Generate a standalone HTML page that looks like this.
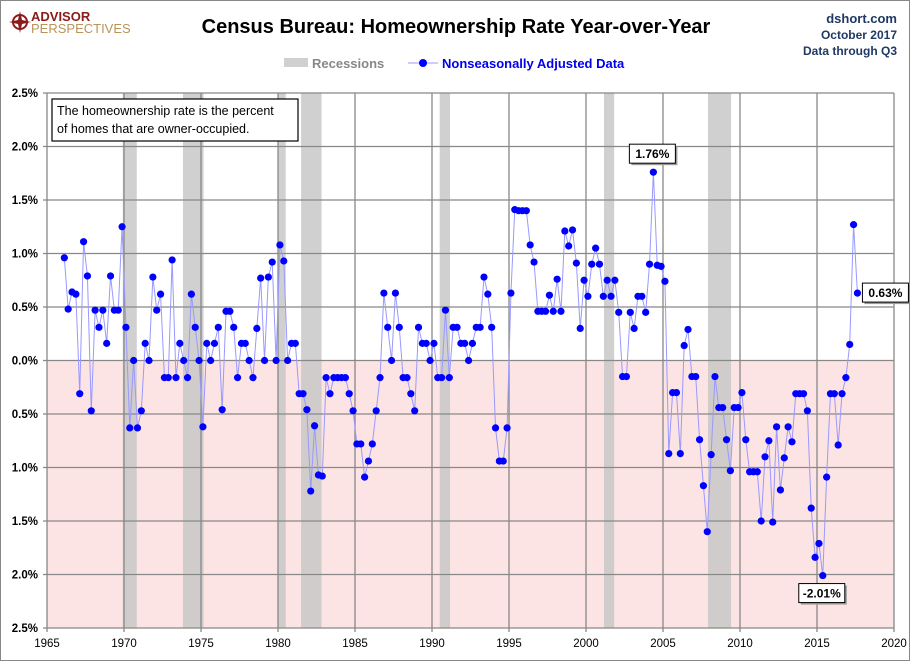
<!DOCTYPE html>
<html><head><meta charset="utf-8"><style>
body{margin:0;background:#fff;font-family:"Liberation Sans",sans-serif}
#wrap{position:relative;width:908px;height:659px;border:1px solid #888;overflow:hidden}
</style></head><body>
<div id="wrap">
<svg id="chart" width="908" height="659" xmlns="http://www.w3.org/2000/svg">
<g>
<circle cx="19" cy="21" r="7" fill="none" stroke="#8b1a1a" stroke-width="2"/>
<path d="M19 10 L21 19 L30 21 L21 23 L19 32 L17 23 L8 21 L17 19Z" fill="#8b1a1a"/>
<text x="30" y="20" font-size="13" font-weight="bold" fill="#8b1a1a">ADVISOR</text>
<text x="30" y="32" font-size="13" fill="#b8955a">PERSPECTIVES</text>
</g>
<text x="455" y="32" text-anchor="middle" font-size="20" font-weight="bold" fill="#000">Census Bureau: Homeownership Rate Year-over-Year</text>
<text x="896" y="22" text-anchor="end" font-size="13" font-weight="bold" fill="#1f3864">dshort.com</text>
<text x="896" y="38" text-anchor="end" font-size="12" font-weight="bold" fill="#1f3864">October 2017</text>
<text x="896" y="54" text-anchor="end" font-size="12" font-weight="bold" fill="#1f3864">Data through Q3</text>
<g>
<rect x="283" y="57" width="24" height="9" fill="#d0d0d0"/>
<text x="311" y="67" font-size="13" font-weight="bold" fill="#888">Recessions</text>
<line x1="407" y1="62" x2="437" y2="62" stroke="#9999ff" stroke-width="1"/>
<circle cx="422" cy="62" r="4" fill="#0000ff"/>
<text x="441" y="67" font-size="13" font-weight="bold" fill="#0000ee">Nonseasonally Adjusted Data</text>
</g>
<g id="plot"></g>
<g>
<rect x="51" y="98" width="246" height="42" fill="#fff" stroke="#000" stroke-width="1.2"/>
<text x="56" y="114" font-size="12.5" fill="#000">The homeownership rate is the percent</text>
<text x="56" y="132" font-size="12.5" fill="#000">of homes that are owner-occupied.</text>
</g>
</svg>
</div>
<script>
const startYear = 1966;
const values = [0.96,0.48,0.64,0.62,-0.31,1.11,0.79,-0.47,0.47,0.31,0.47,0.16,0.79,0.47,0.47,1.25,0.31,-0.63,0,-0.63,-0.47,0.16,0,0.78,0.47,0.62,-0.16,-0.16,0.94,-0.16,0.16,0,-0.16,0.62,0.31,0,-0.62,0.16,
0,0.16,0.31,-0.46,0.46,0.46,0.31,-0.16,0.16,0.16,0,-0.16,0.3,0.77,0,0.78,0.92,0,1.08,0.93,0,0.16,0.16,-0.31,-0.31,-0.46,-1.22,-0.61,-1.07,-1.08,-0.16,-0.31,-0.16,-0.16,-0.16,-0.16,-0.31,-0.47,
-0.78,-0.78,-1.09,-0.94,-0.78,-0.47,-0.16,0.63,0.31,0,0.63,0.31,-0.16,-0.16,-0.31,-0.47,0.31,0.16,0.16,0,0.16,-0.16,-0.16,0.47,-0.16,0.31,0.31,0.16,0.16,0,0.16,0.31,0.31,0.78,0.62,0.31,-0.63,-0.94,-0.94,-0.63,
0.63,1.41,1.40,1.40,1.40,1.08,0.92,0.46,0.46,0.46,0.61,0.46,0.76,0.46,1.21,1.07,1.22,0.91,0.30,0.75,0.60,0.90,1.05,0.90,0.60,0.75,0.60,0.75,0.45,-0.15,-0.15,0.45,0.30,0.60,0.60,0.45,0.90,1.76,0.89,0.88,0.74,-0.87,-0.30,-0.30,
-0.87,0.14,0.29,-0.15,-0.15,-0.74,-1.17,-1.60,-0.88,-0.15,-0.44,-0.44,-0.74,-1.03,-0.44,-0.44,-0.30,-0.74,-1.04,-1.04,-1.04,
-1.50,-0.90,-0.75,-1.51,-0.62,-1.21,-0.91,-0.62,-0.76,-0.31,-0.31,-0.31,-0.47,-1.38,-1.84,-1.71,-2.01,-1.09,-0.31,-0.31,-0.79,-0.31,-0.16,0.15,1.27,0.63];
const recessionStarts = [1969.92,1973.83,1980.0,1981.5,1990.5,2001.17,2007.92];
const recessionEnds = [1970.83,1975.17,1980.5,1982.83,1991.17,2001.83,2009.42];
const yTicks = [2.5,2.0,1.5,1.0,0.5,0.0,-0.5,-1.0,-1.5,-2.0,-2.5];
const xTicks = [1965,1970,1975,1980,1985,1990,1995,2000,2005,2010,2015,2020];
const callouts = [[153,'1.76%'],[206,'0.63%'],[197,'-2.01%']];

const L=46,R=893,T=92,B=627,NS='http://www.w3.org/2000/svg';
const xS=y=>L+(y-1965)/55*(R-L);
const yS=v=>T+(2.5-v)/5*(B-T);
const g=document.getElementById('plot');
function mk(t,a,p){const e=document.createElementNS(NS,t);for(const k in a)e.setAttribute(k,a[k]);(p||g).appendChild(e);return e;}
let e=mk('rect',{x:L,y:yS(0),width:R-L,height:B-yS(0),fill:'#fde4e4'});


recessionStarts.forEach((s,i)=>{const r=mk('rect',{x:xS(s),y:T,width:xS(recessionEnds[i])-xS(s),height:B-T,fill:'#c8c8c8','fill-opacity':0.85});

});
yTicks.forEach(v=>{const l=mk('line',{x1:L-4,x2:R,y1:yS(v),y2:yS(v),stroke:'#888','stroke-width':1.3});


const t=mk('text',{x:L-9,y:yS(v)+4,'text-anchor':'end','font-size':11.5,'font-weight':'bold',fill:'#000'});
t.textContent=Math.abs(v).toFixed(1)+'%';

});
xTicks.forEach(y=>{const l=mk('line',{x1:xS(y),x2:xS(y),y1:T,y2:B+4,stroke:'#888','stroke-width':1.3});


const t=mk('text',{x:xS(y),y:B+19,'text-anchor':'middle','font-size':11.5,fill:'#000'});
t.textContent=y;

});
const px=i=>xS(startYear+i/4+0.125);
const line=mk('polyline',{points:values.map((v,i)=>px(i)+','+yS(v)).join(' '),fill:'none',stroke:'#9999ff','stroke-width':1});


values.forEach((v,i)=>{const c=mk('circle',{cx:px(i),cy:yS(v),r:3.6,fill:'#0000ff'});

});
callouts.forEach(([i,txt])=>{let x,y;const v=values[i];
if(txt==='0.63%'){x=px(i)+5;y=yS(v)-10;}else if(v<0){x=px(i)-24;y=yS(v)+8;}else{x=px(i)-24;y=yS(v)-28;}
const gg=mk('g',{});


mk('rect',{x:x+2,y:y+2,width:46,height:19,fill:'#999'},gg);
mk('rect',{x:x,y:y,width:46,height:19,fill:'#fff',stroke:'#000'},gg);
const t=mk('text',{x:x+23,y:y+14,'text-anchor':'middle','font-size':12,'font-weight':'bold'},gg);t.textContent=txt;});
</script>
</body></html>
